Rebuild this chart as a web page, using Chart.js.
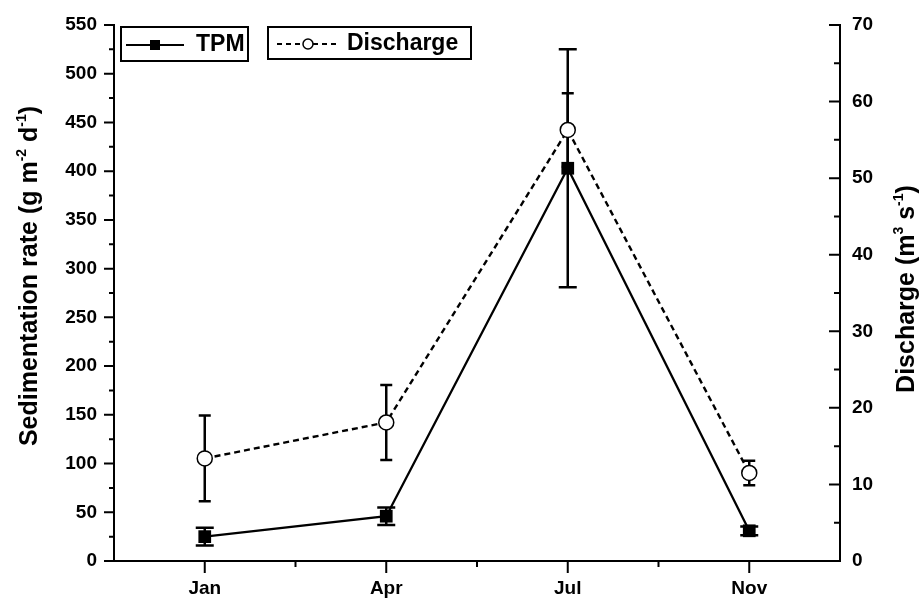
<!DOCTYPE html>
<html>
<head>
<meta charset="utf-8">
<script src="https://cdn.jsdelivr.net/npm/chart.js@4.4.1/dist/chart.umd.min.js"></script>
<style>
html,body{margin:0;padding:0;background:#fff;}
#wrap{width:920px;height:599px;position:relative;}
</style>
</head>
<body>
<div id="wrap"><canvas id="c" width="920" height="599"></canvas></div>
<script>
// ---- data ----
const categories = ['Jan', 'Apr', 'Jul', 'Nov'];
const tpm = [25, 46, 403, 31];
const tpmErr = [9, 9, 122, 4.5];
const discharge = [13.4, 18.1, 56.3, 11.5];
const dischargeErr = [5.6, 4.9, 4.8, 1.6];
const leftTicks = [0, 50, 100, 150, 200, 250, 300, 350, 400, 450, 500, 550];
const rightTicks = [0, 10, 20, 30, 40, 50, 60, 70];
const legendLabels = ['TPM', 'Discharge'];
const leftTitle = ['Sedimentation rate (g m', '-2', ' d', '-1', ')'];
const rightTitle = ['Discharge (m', '3', ' s', '-1', ')'];

const FAM = '"Liberation Sans", Arial, sans-serif';
const tickFont = {family: FAM, weight: 'bold', size: 19};

const decor = {
  id: 'decor',
  beforeDatasetsDraw(chart) {
    const ctx = chart.ctx;
    const x = chart.scales.x, y = chart.scales.y, y1 = chart.scales.y1;
    ctx.save();
    ctx.strokeStyle = '#000';
    ctx.lineWidth = 2.5;
    const bar = (px, lo, hi, cap) => {
      ctx.beginPath();
      ctx.moveTo(px, lo); ctx.lineTo(px, hi);
      ctx.moveTo(px - cap, lo); ctx.lineTo(px + cap, lo);
      ctx.moveTo(px - cap, hi); ctx.lineTo(px + cap, hi);
      ctx.stroke();
    };
    categories.forEach((c, i) => {
      const px = x.getPixelForValue(i);
      bar(px, y1.getPixelForValue(discharge[i] - dischargeErr[i]), y1.getPixelForValue(discharge[i] + dischargeErr[i]), 6);
      bar(px, y.getPixelForValue(tpm[i] - tpmErr[i]), y.getPixelForValue(tpm[i] + tpmErr[i]), 9);
    });
    ctx.restore();
  },
  afterDraw(chart) {
    const ctx = chart.ctx;
    const a = chart.chartArea;
    const x = chart.scales.x, y = chart.scales.y, y1 = chart.scales.y1;
    ctx.save();
    ctx.strokeStyle = '#000';
    ctx.fillStyle = '#000';
    ctx.lineWidth = 2;
    ctx.beginPath();
    // left ticks (outward)
    for (let v = 0; v <= 550; v += 25) {
      const py = y.getPixelForValue(v);
      const len = v % 50 === 0 ? 10 : 5;
      ctx.moveTo(a.left, py); ctx.lineTo(a.left - len, py);
    }
    // right ticks (inward)
    for (let v = 0; v <= 70; v += 5) {
      const py = y1.getPixelForValue(v);
      const len = v % 10 === 0 ? 11 : 6;
      ctx.moveTo(a.right, py); ctx.lineTo(a.right - len, py);
    }
    // bottom ticks (outward)
    for (let i = 0; i < categories.length; i++) {
      const px = x.getPixelForValue(i);
      ctx.moveTo(px, a.bottom); ctx.lineTo(px, a.bottom + 12);
      if (i < categories.length - 1) {
        const mx = (px + x.getPixelForValue(i + 1)) / 2;
        ctx.moveTo(mx, a.bottom); ctx.lineTo(mx, a.bottom + 6);
      }
    }
    ctx.stroke();

    // axis titles
    const drawTitle = (parts, bx, cy) => {
      ctx.save();
      ctx.translate(bx, cy);
      ctx.rotate(-Math.PI / 2);
      ctx.textBaseline = 'alphabetic';
      ctx.textAlign = 'left';
      const big = 'bold 25px ' + FAM, small = 'bold 14px ' + FAM;
      let total = 0;
      parts.forEach((p, k) => { ctx.font = k % 2 ? small : big; total += ctx.measureText(p).width; });
      let cx = -total / 2;
      parts.forEach((p, k) => {
        ctx.font = k % 2 ? small : big;
        ctx.fillText(p, cx, k % 2 ? -11 : 0);
        cx += ctx.measureText(p).width;
      });
      ctx.restore();
    };
    drawTitle(leftTitle, 37, 276);
    drawTitle(rightTitle, 914, 289);

    // legend
    ctx.lineWidth = 2;
    ctx.strokeRect(121, 27, 127, 34);
    ctx.strokeRect(268, 27, 203, 32);
    // TPM sample
    ctx.beginPath();
    ctx.moveTo(126, 45); ctx.lineTo(184, 45); ctx.stroke();
    ctx.fillRect(150, 40, 10, 10);
    // Discharge sample
    ctx.setLineDash([5, 4]);
    ctx.beginPath();
    ctx.moveTo(277, 44); ctx.lineTo(339, 44); ctx.stroke();
    ctx.setLineDash([]);
    ctx.beginPath();
    ctx.arc(308, 44, 5, 0, Math.PI * 2);
    ctx.fillStyle = '#fff'; ctx.fill();
    ctx.lineWidth = 1.5; ctx.stroke();
    ctx.fillStyle = '#000';
    ctx.font = 'bold 23px ' + FAM;
    ctx.textBaseline = 'middle';
    ctx.textAlign = 'left';
    ctx.fillText(legendLabels[0], 196, 45);
    ctx.fillText(legendLabels[1], 347, 44);
    ctx.restore();
  }
};

new Chart(document.getElementById('c'), {
  type: 'line',
  data: {
    labels: categories,
    datasets: [
      {
        label: legendLabels[0],
        data: tpm,
        yAxisID: 'y',
        borderColor: '#000',
        backgroundColor: '#000',
        borderWidth: 2.3,
        pointStyle: 'rect',
        pointRadius: 9,
        pointBorderWidth: 0,
        pointBackgroundColor: '#000',
        tension: 0
      },
      {
        label: legendLabels[1],
        data: discharge,
        yAxisID: 'y1',
        borderColor: '#000',
        backgroundColor: '#fff',
        borderWidth: 2.4,
        borderDash: [6, 4],
        pointStyle: 'circle',
        pointRadius: 7.5,
        pointBorderWidth: 1.5,
        pointBackgroundColor: '#fff',
        pointBorderColor: '#000',
        tension: 0
      }
    ]
  },
  options: {
    responsive: false,
    animation: false,
    events: [],
    layout: {padding: {top: 25, left: 0, right: 0, bottom: 0}},
    plugins: {legend: {display: false}, tooltip: {enabled: false}, title: {display: false}},
    scales: {
      x: {
        type: 'category',
        offset: true,
        grid: {display: false, drawTicks: true, tickLength: 12},
        border: {display: true, color: '#000', width: 2},
        ticks: {color: '#000', font: tickFont, padding: 4, maxRotation: 0},
        afterFit(s) { s.height = 38; }
      },
      y: {
        position: 'left',
        min: 0, max: 550,
        afterBuildTicks(s) { s.ticks = leftTicks.map(v => ({value: v})); },
        grid: {display: false, drawTicks: true, tickLength: 10},
        border: {display: true, color: '#000', width: 2},
        ticks: {color: '#000', font: tickFont, padding: 7},
        afterFit(s) { s.width = 114; }
      },
      y1: {
        position: 'right',
        min: 0, max: 70,
        afterBuildTicks(s) { s.ticks = rightTicks.map(v => ({value: v})); },
        grid: {display: false, drawTicks: true, tickLength: 4},
        border: {display: true, color: '#000', width: 2},
        ticks: {color: '#000', font: tickFont, padding: 8},
        afterFit(s) { s.width = 80; }
      }
    }
  },
  plugins: [decor]
});
</script>
</body>
</html>
